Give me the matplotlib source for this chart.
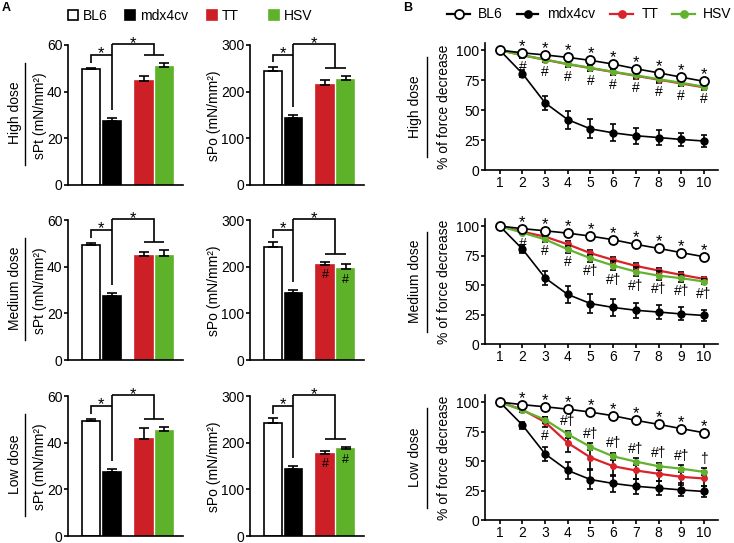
import matplotlib
matplotlib.use('Agg')
import matplotlib.pyplot as plt
import numpy as np
from matplotlib.patches import Rectangle

plt.rcParams['font.family'] = ['Liberation Sans', 'DejaVu Sans']

# ---------------- data ----------------
groups = ['BL6', 'mdx4cv', 'TT', 'HSV']
doses = ['High dose', 'Medium dose', 'Low dose']
bar_colors = ['white', 'black', '#cc1f26', '#5db22a']
bar_edges = ['black', 'black', '#cc1f26', '#5db22a']

# Panel A: specific twitch force (sPt) and specific tetanic force (sPo)
spt_high = [49.5, 27.5, 44.6, 50.6]
spt_high_err = [0.7, 1.4, 2.1, 1.7]
spt_med = [49.4, 27.5, 44.7, 44.6]
spt_med_err = [0.7, 1.4, 1.4, 2.4]
spt_low = [49.4, 27.5, 41.4, 45.0]
spt_low_err = [0.7, 1.4, 4.8, 1.6]

spo_high = [244, 144, 214, 226]
spo_high_err = [9, 6, 10, 7]
spo_med = [243, 144, 204, 194]
spo_med_err = [9, 6, 6, 11]
spo_low = [243, 144, 176, 185.5]
spo_low_err = [9, 6, 6, 5]

spo_hash_inside = [False, True, True]  # '#' drawn inside TT/HSV bars

# Panel B: % of force decrease over contraction cycles
cycles = list(range(1, 11))
bl6_pct = [100, 97.8, 96.0, 94.0, 91.5, 88.4, 84.5, 81.1, 77.5, 74.0]
bl6_err = [0, 1, 1, 1, 1, 1, 1, 1, 1, 1]
mdx_pct = [100, 80.5, 56.0, 42.0, 34.3, 31.0, 28.6, 27.1, 25.5, 24.2]
mdx_err = [0, 3, 6, 7.5, 8, 7, 6.5, 6, 5.5, 5]

high_tt = [100, 95.8, 92.0, 88.3, 85.0, 81.8, 78.6, 75.4, 72.2, 69.0]
high_tt_err = [0, 2, 2, 2.5, 2.5, 2.5, 2.5, 2.5, 2.5, 2]
high_hsv = [100, 95.8, 92.2, 88.5, 85.3, 82.0, 79.0, 75.8, 72.8, 69.5]
high_hsv_err = [0, 2, 2, 2.5, 2.5, 2.5, 2.5, 2.5, 2.5, 2]

med_tt = [100, 95.2, 91.0, 84.5, 77.0, 71.3, 66.2, 62.3, 58.6, 55.2]
med_tt_err = [0, 1.5, 2, 2.5, 2.5, 2.5, 2.5, 2.5, 2.5, 2]
med_hsv = [100, 94.4, 88.7, 80.3, 72.7, 66.5, 61.4, 58.0, 55.8, 53.0]
med_hsv_err = [0, 1.5, 2, 3, 3, 4, 4, 3.5, 3, 2.5]

low_tt = [100, 93.5, 83.0, 65.4, 53.0, 45.6, 42.0, 39.2, 36.6, 35.2]
low_tt_err = [0, 1.5, 4, 8, 10, 8, 7, 6.5, 6.5, 6]
low_hsv = [100, 93.0, 85.0, 72.7, 62.0, 54.0, 49.5, 45.6, 43.5, 40.8]
low_hsv_err = [0, 1.5, 2.5, 3, 3, 3, 3, 3, 3, 3]

high_marks = ['', '#', '#', '#', '#', '#', '#', '#', '#', '#']
med_marks = ['', '#', '#', '#', '#\u2020', '#\u2020', '#\u2020', '#\u2020', '#\u2020', '#\u2020']
low_marks = ['', '', '#', '#\u2020', '#\u2020', '#\u2020', '#\u2020', '#\u2020', '#\u2020', '\u2020']
high_above = [False] * 10
med_above = [False] * 10
low_above = [False, False, False, True, True, True, True, True, True, True]
star_marks = ['', '*', '*', '*', '*', '*', '*', '*', '*', '*']

# ---------------- figure ----------------
W, H = 734, 543
fig = plt.figure(figsize=(W / 100, H / 100), dpi=100)

ov = fig.add_axes([0, 0, 1, 1])
ov.set_xlim(0, W)
ov.set_ylim(H, 0)
ov.axis('off')

FS = 10
LW = 1.2


def px_axes(x0, x1, y0, y1):
    return fig.add_axes([x0 / W, 1 - y1 / H, (x1 - x0) / W, (y1 - y0) / H])


def style(ax):
    for s in ['top', 'right']:
        ax.spines[s].set_visible(False)
    for s in ['left', 'bottom']:
        ax.spines[s].set_linewidth(LW)
    ax.tick_params(direction='out', length=3, width=LW, labelsize=FS, pad=1)


xpos = [0, 1, 2.55, 3.55]


def bar_panel(ax, means, errs, ymax, step, hash_inside):
    for i in range(4):
        ax.bar(xpos[i], means[i], width=0.85, color=bar_colors[i],
               edgecolor=bar_edges[i], linewidth=LW, zorder=2)
    ax.errorbar(xpos, means, yerr=[np.zeros(4), errs], fmt='none', ecolor='black',
                elinewidth=LW, capsize=3.5, capthick=LW, zorder=3)
    ax.set_xlim(-1.12, 4.45)
    ax.set_ylim(0, ymax)
    ax.set_yticks(np.arange(0, ymax + 1, step))
    ax.set_xticks([])
    style(ax)
    top_small = 0.93 * ymax
    top_big = 1.005 * ymax
    bl6_low = means[0] + errs[0] + 0.035 * ymax
    mdx_low = means[1] + errs[1] + 0.055 * ymax
    t_y = max(means[2] + errs[2], means[3] + errs[3]) + 0.058 * ymax
    tc = (xpos[2] + xpos[3]) / 2
    kw = dict(color='black', lw=LW, clip_on=False, solid_joinstyle='miter',
              solid_capstyle='butt')
    ax.plot([xpos[0], xpos[0], xpos[1]], [bl6_low, top_small, top_small], **kw)
    ax.plot([xpos[1], xpos[1]], [mdx_low, top_big], **kw)
    ax.plot([xpos[1], tc, tc], [top_big, top_big, t_y], **kw)
    ax.plot([xpos[2], xpos[3]], [t_y, t_y], **kw)
    for xs, ys in [((xpos[0] + xpos[1]) / 2, top_small), ((xpos[1] + tc) / 2, top_big)]:
        ax.annotate('*', (xs, ys), xytext=(0, -2.5), textcoords='offset points',
                    ha='center', va='baseline', fontsize=12, annotation_clip=False)
    if hash_inside:
        for i in (2, 3):
            ax.text(xpos[i], means[i] - 0.075 * ymax, '#', ha='center', va='center',
                    fontsize=9, color='black', zorder=4)


def line_panel(ax, tt, tt_err, hsv, hsv_err, marks, above):
    ax.errorbar(cycles, mdx_pct, yerr=mdx_err, color='black', marker='o', ms=5,
                lw=LW, elinewidth=LW, capsize=2.5, capthick=LW, zorder=3)
    ax.errorbar(cycles, tt, yerr=tt_err, color='#d9232a', ecolor='black', marker='o',
                ms=4, lw=1.6, elinewidth=LW, capsize=2.5, capthick=LW, zorder=4)
    ax.errorbar(cycles, hsv, yerr=hsv_err, color='#62b22f', ecolor='black', marker='o',
                ms=4, lw=1.6, elinewidth=LW, capsize=2.5, capthick=LW, zorder=5)
    ax.errorbar(cycles, bl6_pct, yerr=bl6_err, color='black', marker='o', ms=6.5,
                mfc='white', mec='black', mew=1.3, lw=LW, elinewidth=LW, capsize=2.5,
                capthick=LW, zorder=6)
    ax.set_xlim(0.35, 10.62)
    ax.set_ylim(0, 106)
    ax.set_yticks([0, 25, 50, 75, 100])
    ax.set_xticks(cycles)
    style(ax)
    for i, x in enumerate(cycles):
        if star_marks[i]:
            ax.annotate(star_marks[i], (x, bl6_pct[i] + 4), xytext=(0, -2),
                        textcoords='offset points', ha='center', va='baseline',
                        fontsize=12, zorder=7)
        if marks[i]:
            if above[i]:
                y = max(tt[i] + tt_err[i], hsv[i] + hsv_err[i]) + 8
            else:
                y = min(tt[i] - tt_err[i], hsv[i] - hsv_err[i]) - 8
            ax.text(x, y, marks[i], ha='center', va='center', fontsize=FS, zorder=7)


rows_A = [(45, 185), (220, 360), (396, 536)]
rows_B = [(43, 170), (219, 344), (395, 520)]

spt_data = [(spt_high, spt_high_err), (spt_med, spt_med_err), (spt_low, spt_low_err)]
spo_data = [(spo_high, spo_high_err), (spo_med, spo_med_err), (spo_low, spo_low_err)]
line_data = [(high_tt, high_tt_err, high_hsv, high_hsv_err, high_marks, high_above),
             (med_tt, med_tt_err, med_hsv, med_hsv_err, med_marks, med_above),
             (low_tt, low_tt_err, low_hsv, low_hsv_err, low_marks, low_above)]

for r in range(3):
    y0, y1 = rows_A[r]
    yc = (y0 + y1) / 2
    axl = px_axes(68, 183, y0, y1)
    bar_panel(axl, spt_data[r][0], spt_data[r][1], 60, 20, False)
    axr = px_axes(250, 364, y0, y1)
    bar_panel(axr, spo_data[r][0], spo_data[r][1], 300, 100, spo_hash_inside[r])
    ov.text(40, yc + 1, 'sPt (mN/mm\u00b2)', rotation=90, ha='center', va='center', fontsize=FS)
    ov.text(214, yc + 1, 'sPo (mN/mm\u00b2)', rotation=90, ha='center', va='center', fontsize=FS)
    ov.text(15, yc - 2, doses[r], rotation=90, ha='center', va='center', fontsize=FS)
    ov.plot([25, 25], [yc - 52, yc + 50], color='black', lw=1.0)

    b0, b1 = rows_B[r]
    bc = (b0 + b1) / 2
    axb = px_axes(485, 718, b0, b1)
    line_panel(axb, *line_data[r])
    ov.text(444, bc, '% of force decrease', rotation=90, ha='center', va='center', fontsize=FS)
    ov.text(415, bc, doses[r], rotation=90, ha='center', va='center', fontsize=FS)
    ov.plot([427, 427], [bc - 50, bc + 50], color='black', lw=1.0)

# panel letters
ov.text(2, 2, 'A', fontsize=9, fontweight='bold', ha='left', va='top')
ov.text(403, 2, 'B', fontsize=9, fontweight='bold', ha='left', va='top')

# legend A
legA_x = [68, 125, 207, 269]
for i in range(4):
    ov.add_patch(Rectangle((legA_x[i], 10), 10, 10, facecolor=bar_colors[i],
                           edgecolor=bar_edges[i], lw=1.2))
    ov.text(legA_x[i] + 15, 15.5, groups[i], ha='left', va='center', fontsize=FS)

# legend B
legB_line = [(447, 470), (517, 538), (610, 633), (672, 695)]
legB_text = [478, 547, 642, 703]
legB_color = ['black', 'black', '#d9232a', '#62b22f']
legB_mfc = ['white', 'black', '#d9232a', '#62b22f']
legB_ms = [6.5, 5, 5, 5]
for i in range(4):
    xa, xb = legB_line[i]
    ov.plot([xa, xb], [14, 14], color=legB_color[i], lw=1.6)
    ov.plot([(xa + xb) / 2], [14], marker='o', ms=legB_ms[i], mfc=legB_mfc[i],
            mec=legB_color[i], mew=1.3)
    ov.text(legB_text[i], 14.5, groups[i], ha='left', va='center', fontsize=FS)

fig.savefig('out.png', dpi=100)
